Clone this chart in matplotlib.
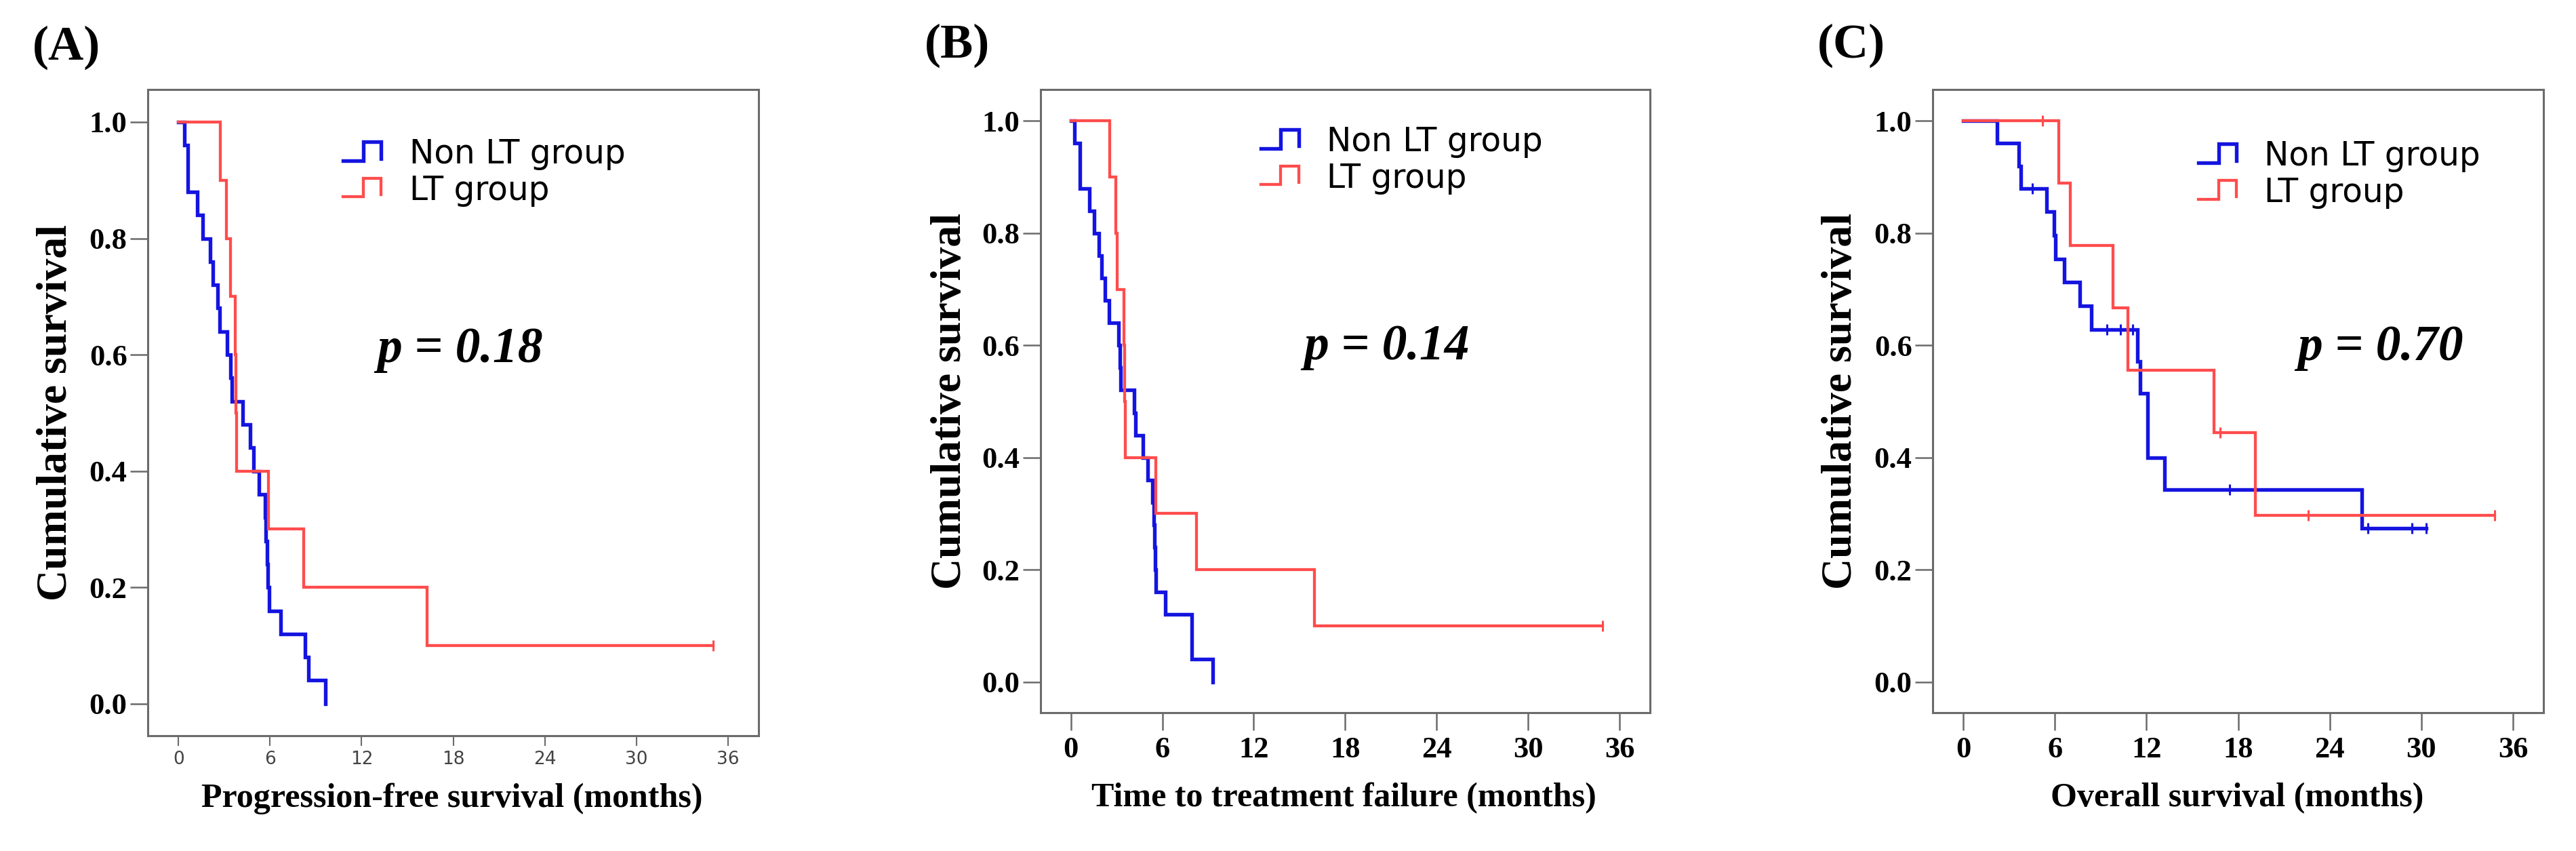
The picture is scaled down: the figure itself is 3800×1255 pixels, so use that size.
import numpy as np
import matplotlib
matplotlib.use("Agg")
import matplotlib.pyplot as plt
from matplotlib.lines import Line2D
from matplotlib.legend_handler import HandlerBase

# --- DATA (months, event=1 / censored=0) ---
# (A) progression-free survival
pfs_non_times = [0.39, 0.61, 0.61, 1.23, 1.57, 2.09, 2.24, 2.57, 2.69, 3.21, 3.40, 3.50, 4.20,
                 4.69, 4.92, 5.29, 5.66, 5.73, 5.81, 5.84, 5.96, 6.70, 8.28, 8.53, 9.63]
pfs_non_events = [1] * 25
pfs_lt_times = [2.76, 3.13, 3.40, 3.73, 3.78, 3.83, 5.88, 8.22, 16.30, 35.00]
pfs_lt_events = [1, 1, 1, 1, 1, 1, 1, 1, 1, 0]

# (B) time to treatment failure
ttf_non_times = [0.25, 0.58, 0.58, 1.20, 1.53, 1.85, 2.03, 2.22, 2.48, 3.12, 3.20, 3.28, 4.14,
                 4.25, 4.72, 5.03, 5.36, 5.42, 5.48, 5.52, 5.56, 6.20, 7.95, 7.95, 9.32]
ttf_non_events = [1] * 25
ttf_lt_times = [2.55, 2.94, 3.03, 3.46, 3.52, 3.58, 5.56, 8.23, 15.96, 34.90]
ttf_lt_events = [1, 1, 1, 1, 1, 1, 1, 1, 1, 0]

# (C) overall survival
os_non_times = [2.20, 3.62, 3.75, 4.50, 5.45, 5.95, 6.05, 6.60, 7.62, 8.38, 9.40, 10.30, 10.30,
                11.10, 11.40, 11.60, 12.05, 12.05, 13.17, 17.45, 26.08, 26.50, 29.40, 30.30, 30.30]
os_non_events = [1, 1, 1, 0, 1, 1, 1, 1, 1, 1, 0, 0, 0, 0, 1, 1, 1, 1, 1, 0, 1, 0, 0, 0, 0]
os_lt_times = [5.20, 6.25, 7.02, 9.80, 10.76, 16.40, 16.80, 19.12, 22.58, 34.80]
os_lt_events = [0, 1, 1, 1, 1, 1, 0, 1, 0, 0]

p_values = ["0.18", "0.14", "0.70"]
panel_letters = ["(A)", "(B)", "(C)"]
x_titles = ["Progression-free survival (months)", "Time to treatment failure (months)",
            "Overall survival (months)"]
group_names = ["Non LT group", "LT group"]
x_ticks = [0, 6, 12, 18, 24, 30, 36]
y_ticks = [0.0, 0.2, 0.4, 0.6, 0.8, 1.0]

BLUE = "#1414e0"
RED = "#ff4c4c"
SPINE = "#6b6b6b"
SERIF = "Liberation Serif"
SANS = "DejaVu Sans"


def km_curve(times, events):
    """Kaplan-Meier step points plus censor positions."""
    t = np.asarray(times, dtype=float)
    e = np.asarray(events, dtype=int)
    n = len(t)
    s = 1.0
    xs, ys = [0.0], [1.0]
    cx, cy = [], []
    for ut in np.unique(t):
        mask = t == ut
        d = e[mask].sum()
        c = mask.sum() - d
        if d:
            s *= (n - d) / n
        xs.append(ut)
        ys.append(s)
        if c:
            cx.append(ut)
            cy.append(s)
        n -= mask.sum()
    return xs, ys, cx, cy


class StepHandler(HandlerBase):
    # SPSS style legend symbol: low run, step up, run, drop
    def create_artists(self, legend, orig_handle, xdescent, ydescent, width, height, fontsize, trans):
        xs = np.array([0, 0.53, 0.53, 1.0, 1.0]) * width - xdescent
        ys = np.array([0.1, 0.1, 1.0, 1.0, 0.2]) * height - ydescent
        line = Line2D(xs, ys, color=orig_handle.get_color(), lw=orig_handle.get_linewidth(),
                      solid_joinstyle="miter")
        line.set_transform(trans)
        return [line]


panels = [
    dict(rect=[0.0574, 0.1355, 0.2371, 0.7594], data=(pfs_non_times, pfs_non_events, pfs_lt_times, pfs_lt_events),
         p_xy=(13.0, 0.608), leg=(0.320, 0.925), xlab_y=-0.097, ylab_x=-0.150, letter_xy=(0.0126, 0.944)),
    dict(rect=[0.4039, 0.1625, 0.2366, 0.7323], data=(ttf_non_times, ttf_non_events, ttf_lt_times, ttf_lt_events),
         p_xy=(15.3, 0.597), leg=(0.3615, 0.942), xlab_y=-0.137, ylab_x=-0.148, letter_xy=(0.3588, 0.9466)),
    dict(rect=[0.7503, 0.1625, 0.2371, 0.7323], data=(os_non_times, os_non_events, os_lt_times, os_lt_events),
         p_xy=(21.9, 0.596), leg=(0.435, 0.919), xlab_y=-0.137, ylab_x=-0.150, letter_xy=(0.7055, 0.9466)),
]

fig = plt.figure(figsize=(38, 12.55), dpi=100)
fig.patch.set_facecolor("white")

for i, cfg in enumerate(panels):
    ax = fig.add_axes(cfg["rect"])
    non_t, non_e, lt_t, lt_e = cfg["data"]

    handles = []
    for times, events, color, lw in [(non_t, non_e, BLUE, 3.9), (lt_t, lt_e, RED, 3.1)]:
        xs, ys, cx, cy = km_curve(times, events)
        h, = ax.plot(xs, ys, drawstyle="steps-post", color=color, lw=lw, solid_joinstyle="miter")
        ax.plot(cx, cy, ls="none", marker="|", ms=11, mew=2.2, color=color)
        handles.append(h)

    ax.set_xlim(-2, 38)
    ax.set_ylim(-0.055, 1.056)
    ax.set_xticks(x_ticks)
    ax.set_yticks(y_ticks)
    ax.set_yticklabels([f"{v:.1f}" for v in y_ticks])

    for spine in ax.spines.values():
        spine.set_edgecolor(SPINE)
        spine.set_linewidth(2.2)

    ax.tick_params(axis="y", direction="out", length=19, width=1.8, color=SPINE, pad=3)
    for lab in ax.get_yticklabels():
        lab.set_fontfamily(SERIF)
        lab.set_fontweight("bold")
        lab.set_fontsize(32)

    if i == 0:
        # panel A has small plain x tick labels
        ax.tick_params(axis="x", direction="out", length=11, width=1.5, color=SPINE, pad=5)
        for lab in ax.get_xticklabels():
            lab.set_fontfamily(SANS)
            lab.set_fontsize(19)
            lab.set_color("#444444")
    else:
        ax.tick_params(axis="x", direction="out", length=19, width=1.8, color=SPINE, pad=6)
        for lab in ax.get_xticklabels():
            lab.set_fontfamily(SERIF)
            lab.set_fontweight("bold")
            lab.set_fontsize(32)

    ax.text(0.498, cfg["xlab_y"], x_titles[i], transform=ax.transAxes, ha="center", va="center",
            family=SERIF, weight="bold", fontsize=36)
    ax.text(cfg["ylab_x"], 0.5, "Cumulative survival", transform=ax.transAxes, rotation=90,
            ha="center", va="center", family=SERIF, weight="bold", fontsize=46)

    ax.text(cfg["p_xy"][0], cfg["p_xy"][1], f"p = {p_values[i]}", ha="left", va="center",
            family=SERIF, weight="bold", style="italic", fontsize=53)

    ax.legend(handles, group_names, handler_map={Line2D: StepHandler()}, loc="upper left",
              bbox_to_anchor=cfg["leg"], frameon=False, borderpad=0, borderaxespad=0,
              handlelength=1.15, handleheight=0.6, handletextpad=0.85, labelspacing=0.12,
              prop={"family": SANS, "size": 35})

    fig.text(cfg["letter_xy"][0], cfg["letter_xy"][1], panel_letters[i], ha="left", va="center",
             family=SERIF, weight="bold", fontsize=52)

fig.savefig("out.png", dpi=100, facecolor="white")
